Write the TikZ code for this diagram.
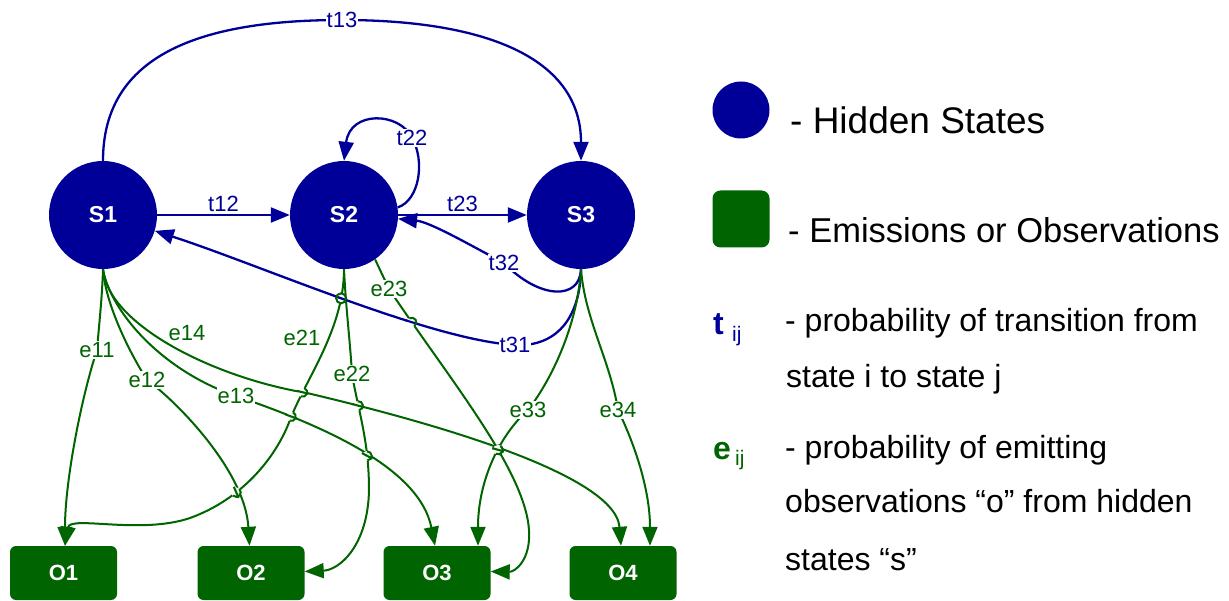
\documentclass[tikz,border=0pt]{standalone}
\usepackage{fontspec}
\setmainfont{Liberation Sans}
\usetikzlibrary{arrows.meta,intersections}
\definecolor{stateblue}{RGB}{0,0,153}
\definecolor{obsgreen}{RGB}{0,100,0}
% line hop: #1 crossing point, #2 angle of the line passed over, #3 its colour,
% #4 angle of the hopping line, #5 its colour
\newcommand\linehop[5]{%
  \fill[white] (#1) circle[radius=5pt];
  \draw[#3,line width=2.1pt] ([shift={(#2:6pt)}]#1) -- ([shift={(#2+180:6pt)}]#1);
  \draw[#5,line width=2pt] ([shift={(#4:4.5pt)}]#1) arc[start angle=#4,delta angle=180,radius=4.5pt];
}
\begin{document}
\begin{tikzpicture}[x=1pt,y=-1pt,
  hstate/.style={circle,fill=stateblue,draw=none,minimum size=108pt,inner sep=0pt,
    text=white,font=\fontsize{23}{26}\selectfont\bfseries},
  obsbox/.style={rectangle,rounded corners=6pt,fill=obsgreen,draw=none,
    minimum width=107pt,minimum height=54pt,inner sep=0pt,
    text=white,font=\fontsize{22}{26}\selectfont\bfseries},
  lbl/.style={fill=white,inner sep=1pt,font=\fontsize{22}{26}\selectfont},
  tedge/.style={draw=stateblue,line width=2.3pt,-{Triangle[length=19pt,width=15pt]}},
  eedge/.style={draw=obsgreen,line width=2pt,-{Triangle[length=19pt,width=15pt]}},
  tlbl/.style={lbl,text=stateblue},
  elbl/.style={lbl,text=obsgreen},
  legtext/.style={anchor=base west,inner sep=0pt,font=\fontsize{32}{38}\selectfont}]
\useasboundingbox (0,0) rectangle (1229,601);

% hidden states
\node[hstate] (S1) at (103,215) {S1};
\node[hstate] (S2) at (344,215) {S2};
\node[hstate] (S3) at (581,215) {S3};

% observations
\node[obsbox] (O1) at (63.5,573) {O1};
\node[obsbox] (O2) at (251,573) {O2};
\node[obsbox] (O3) at (437,573) {O3};
\node[obsbox] (O4) at (623,573) {O4};

% transitions
\draw[tedge] (S1.east) -- node[tlbl,above=1pt]{t12} (S2.west);
\draw[tedge] (S2.east) -- node[tlbl,above=1pt]{t23} (S3.west);
\draw[tedge] (S1.north) .. controls (103,55) and (200,20) .. (342,20) node[tlbl]{t13}
  .. controls (490,20) and (581,60) .. (S3.north);
\draw[tedge] (S2.8) .. controls (420,200) and (425,160) .. (412,138) node[tlbl]{t22}
  .. controls (400,112) and (350,110) .. (S2.north);
\draw[tedge] (S3.south) .. controls (580,300) and (540,300) .. (504,263) node[tlbl]{t32}
  .. controls (470,245) and (430,222) .. (S2.-4);
\draw[tedge,name path=t31] (S3.south) .. controls (580,320) and (555,347) .. (515,345) node[tlbl]{t31}
  .. controls (430,340) and (260,265) .. (S1.-17);

% emissions from S1
\draw[eedge] (S1.south) .. controls (102,300) and (99,325) .. (97,350) node[elbl]{e11}
  .. controls (82,395) and (65,480) .. ([xshift=1.5pt]O1.north);
\draw[eedge,name path=e12] (S1.south) .. controls (105,300) and (125,345) .. (147,380) node[elbl]{e12}
  .. controls (175,400) and (245,470) .. ([xshift=-1.5pt]O2.north);
\draw[eedge,name path=e13] (S1.south) .. controls (110,310) and (160,370) .. (236,396) node[elbl]{e13}
  .. controls (330,428) and (420,470) .. ([xshift=-2pt]O3.north);
\draw[eedge,name path=e14] (S1.south) .. controls (108,325) and (215,378) .. (307,393)
  .. controls (400,415) and (615,470) .. ([xshift=-2pt]O4.north);
\node[elbl,fill=none] (e14) at (187,333) {e14};

% emissions from S2
\draw[eedge,name path=e21] (S2.south) .. controls (344,330) and (305,380) .. (290,420)
  .. controls (275,460) and (240,500) .. (190,518)
  .. controls (140,535) and (70,515) .. ([xshift=1.5pt]O1.north);
\node[elbl,fill=none] (e21) at (302,338) {e21};
\draw[eedge,name path=e22] (S2.south) .. controls (346,310) and (350,340) .. (352,374) node[elbl]{e22}
  .. controls (358,410) and (369,440) .. (369,490)
  .. controls (368,545) and (340,570) .. ([yshift=1.5pt]O2.east);
\draw[eedge,name path=e23] (S2.-55) -- (389,289) node[elbl]{e23}
  .. controls (450,380) and (525,470) .. (529,530)
  .. controls (531,560) and (515,572) .. ([yshift=1.5pt]O3.east);

% emissions from S3
\draw[eedge,name path=e33] (S3.south) .. controls (578,320) and (555,375) .. (528,410) node[elbl]{e33}
  .. controls (500,435) and (478,480) .. ([xshift=41pt]O3.north);
\draw[eedge] (S3.south) .. controls (585,320) and (610,360) .. (618,410) node[elbl]{e34}
  .. controls (635,445) and (650,490) .. ([xshift=27pt]O4.north);

% line hops where connectors cross
\path[name intersections={of=e21 and t31,by={hA}}];
\path[name intersections={of=e23 and t31,by={hB}}];
\path[name intersections={of=e21 and e14,by={hC}}];
\path[name intersections={of=e21 and e13,by={hD}}];
\path[name intersections={of=e22 and e14,by={hE}}];
\path[name intersections={of=e22 and e13,by={hF}}];
\path[name intersections={of=e23 and e14,by={hG}}];
\path[name intersections={of=e33 and e14,by={hH}}];
\path[name intersections={of=e21 and e12,by={hI}}];
\begin{scope}[x=1pt,y=1pt]
  \fill[white] (hA) circle[radius=5pt];
  \draw[stateblue,line width=2.3pt] ([shift={(-19:6pt)}]hA) -- ([shift={(161:6pt)}]hA);
  \draw[obsgreen,line width=2pt] (hA) circle[radius=5pt];
  \linehop{hB}{-17}{stateblue}{-57}{obsgreen}
  \linehop{hC}{-14}{obsgreen}{-111}{obsgreen}
  \linehop{hD}{-20}{obsgreen}{-111}{obsgreen}
  \linehop{hE}{-15}{obsgreen}{-81}{obsgreen}
  \linehop{hF}{-28}{obsgreen}{-88}{obsgreen}
  \linehop{hG}{-16}{obsgreen}{-58}{obsgreen}
  \linehop{hH}{-16}{obsgreen}{-122}{obsgreen}
  \linehop{hI}{-67}{obsgreen}{-134}{obsgreen}
\end{scope}

% legend
\node[circle,fill=stateblue,minimum size=57pt,inner sep=0pt] (LS) at (741,110) {};
\node[rectangle,rounded corners=8pt,fill=obsgreen,minimum size=57pt,inner sep=0pt] (LO) at (741,219) {};
\node[anchor=base west,inner sep=0pt,font=\fontsize{37}{42}\selectfont] (LS text) at (790,134) {- Hidden States};
\node[anchor=base west,inner sep=0pt,font=\fontsize{34.5}{40}\selectfont] (LO text) at (788,243) {- Emissions or Observations};

\node[anchor=base west,inner sep=0pt,text=stateblue,font=\fontsize{32}{38}\selectfont\bfseries] (tsym) at (713,335) {t};
\node[anchor=base west,inner sep=0pt,text=stateblue,font=\fontsize{21}{24}\selectfont] (tsub) at (732,342) {ij};
\node[legtext] (t1) at (785,332) {- probability of transition from};
\node[legtext] (t2) at (786,388) {state i to state j};

\node[anchor=base west,inner sep=0pt,text=obsgreen,font=\fontsize{32}{38}\selectfont\bfseries] (esym) at (713,460) {e};
\node[anchor=base west,inner sep=0pt,text=obsgreen,font=\fontsize{21}{24}\selectfont] (esub) at (735,465) {ij};
\node[legtext] (e1) at (785,458) {- probability of emitting};
\node[legtext] (e2) at (785,512) {observations “o” from hidden};
\node[legtext] (e3) at (785,570) {states “s”};
\end{tikzpicture}
\end{document}
